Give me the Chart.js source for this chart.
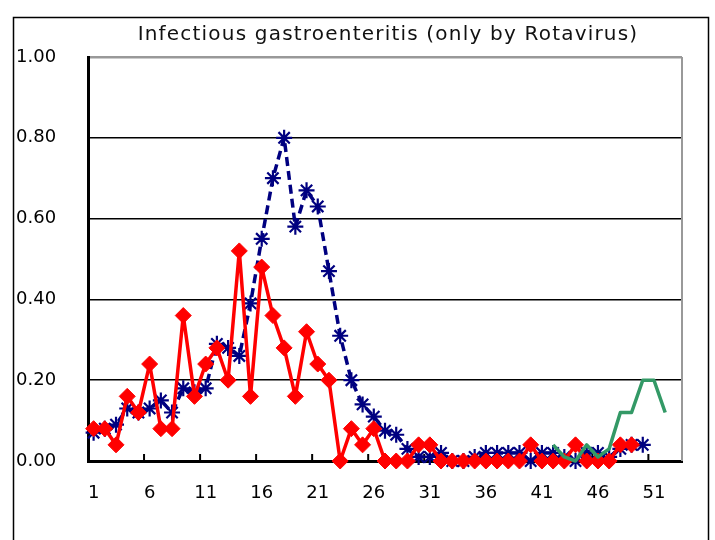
<!DOCTYPE html>
<html>
<head>
<meta charset="utf-8">
<script src="https://cdn.jsdelivr.net/npm/chart.js@4.4.1/dist/chart.umd.min.js"></script>
<style>
  html, body { margin: 0; padding: 0; background: #fff; }
  #wrap { width: 715px; height: 540px; }
</style>
</head>
<body>
<div id="wrap"><canvas id="rotaChart"></canvas></div>
<script>
// week numbers 1..53
const weeks = ["1","2","3","4","5","6","7","8","9","10","11","12","13","14","15","16","17","18","19","20",
    "21","22","23","24","25","26","27","28","29","30","31","32","33","34","35","36","37","38","39","40",
    "41","42","43","44","45","46","47","48","49","50","51","52","53"];

// previous season (blue dashed, asterisks)
const seriesBlue = [0.07, 0.08, 0.09, 0.13, 0.12, 0.13, 0.15, 0.12, 0.18, 0.17,
    0.18, 0.29, 0.28, 0.26, 0.39, 0.55, 0.70, 0.80, 0.58, 0.67,
    0.63, 0.47, 0.31, 0.20, 0.14, 0.11, 0.075, 0.065, 0.03, 0.01,
    0.01, 0.02, 0.00, 0.00, 0.01, 0.02, 0.02, 0.02, 0.02, 0.00,
    0.02, 0.02, 0.01, 0.00, 0.02, 0.02, 0.01, 0.03, 0.04, 0.04,
    null, null, null];

// last season (red, diamonds)
const seriesRed = [0.08, 0.08, 0.04, 0.16, 0.12, 0.24, 0.08, 0.08, 0.36, 0.16,
    0.24, 0.28, 0.20, 0.52, 0.16, 0.48, 0.36, 0.28, 0.16, 0.32,
    0.24, 0.20, 0.00, 0.08, 0.04, 0.08, 0.00, 0.00, 0.00, 0.04,
    0.04, 0.00, 0.00, 0.00, 0.00, 0.00, 0.00, 0.00, 0.00, 0.04,
    0.00, 0.00, 0.00, 0.04, 0.00, 0.00, 0.00, 0.04, 0.04, null,
    null, null, null];

// current season (green)
const seriesGreen = [null, null, null, null, null, null, null, null, null, null,
    null, null, null, null, null, null, null, null, null, null,
    null, null, null, null, null, null, null, null, null, null,
    null, null, null, null, null, null, null, null, null, null,
    null, 0.04, 0.01, 0.00, 0.04, 0.01, 0.03, 0.12, 0.12, 0.20,
    0.20, 0.12, null];

const yTicks = [0, 0.2, 0.4, 0.6, 0.8, 1.0];
const titleText = "Infectious gastroenteritis (only by Rotavirus)";

// frame, right edge, inward x ticks and title
const decorations = {
    id: "decorations",
    beforeDraw(chart) {
        const ctx = chart.ctx;
        ctx.save();
        ctx.strokeStyle = "#000";
        ctx.lineWidth = 1.5;
        ctx.strokeRect(13.5, 17.5, 695, 540);
        ctx.restore();
    },
    beforeDatasetsDraw(chart) {
        const ctx = chart.ctx;
        const area = chart.chartArea;
        const x = chart.scales.x;
        ctx.save();
        ctx.strokeStyle = "#999";
        ctx.lineWidth = 2;
        ctx.beginPath();
        ctx.moveTo(area.right, area.top);
        ctx.lineTo(area.right, area.bottom);
        ctx.stroke();
        ctx.strokeStyle = "#000";
        ctx.lineWidth = 2;
        for (let i = 5; i < weeks.length; i += 5) {
            const px = (x.getPixelForValue(i - 1) + x.getPixelForValue(i)) / 2;
            ctx.beginPath();
            ctx.moveTo(px, area.bottom);
            ctx.lineTo(px, area.bottom - 7);
            ctx.stroke();
        }
        ctx.restore();
    },
    afterDraw(chart) {
        const ctx = chart.ctx;
        const area = chart.chartArea;
        ctx.save();
        ctx.fillStyle = "#111";
        ctx.font = "20px 'DejaVu Sans'";
        ctx.letterSpacing = "1.2px";
        ctx.textAlign = "center";
        ctx.textBaseline = "middle";
        ctx.fillText(titleText, (area.left + area.right) / 2 + 3, 35);
        ctx.restore();
    }
};

const ctx = document.getElementById("rotaChart").getContext("2d");
const rotaChart = new Chart(ctx, {
    type: "line",
    data: {
        labels: weeks,
        datasets: [
            {
                label: "green",
                data: seriesGreen,
                borderColor: "#339966",
                borderWidth: 3.5,
                borderJoinStyle: "round",
                pointRadius: 0,
                tension: 0,
                order: 0,
                clip: false,
            },
            {
                label: "red",
                data: seriesRed,
                borderColor: "#ff0000",
                backgroundColor: "#ff0000",
                borderWidth: 3.5,
                borderJoinStyle: "round",
                pointStyle: "rectRot",
                pointRadius: 8,
                pointBorderWidth: 1,
                tension: 0,
                order: 1,
                clip: false,
            },
            {
                label: "blue",
                data: seriesBlue,
                borderColor: "#000080",
                backgroundColor: "#000080",
                borderWidth: 3.5,
                borderDash: [9, 5],
                borderJoinStyle: "round",
                pointStyle: "star",
                pointRadius: 8,
                pointBorderWidth: 2.2,
                tension: 0,
                order: 2,
                clip: false,
            },
        ],
    },
    options: {
        responsive: true,
        maintainAspectRatio: false,
        animation: false,
        layout: {
            padding: { left: 16, top: 57, right: 33, bottom: 0 },
        },
        plugins: {
            legend: { display: false },
            title: { display: false },
            tooltip: { enabled: false },
        },
        scales: {
            x: {
                type: "category",
                offset: true,
                grid: { display: false, drawTicks: false, offset: true },
                border: { display: true, color: "#000", width: 3 },
                afterFit(scale) { scale.height = 79; },
                ticks: {
                    autoSkip: false,
                    maxRotation: 0,
                    padding: 22,
                    color: "#000",
                    font: { family: "'DejaVu Sans'", size: 18 },
                    callback(value, index) {
                        return index % 5 === 0 ? weeks[index] : null;
                    },
                },
            },
            y: {
                min: 0,
                max: 1,
                afterFit(scale) { scale.width = 72; },
                afterBuildTicks(scale) {
                    scale.ticks = yTicks.map(v => ({ value: v }));
                },
                grid: {
                    drawTicks: false,
                    color: c => (c.tick && c.tick.value === 1 ? "#999" : "#000"),
                    lineWidth: c => (c.tick && c.tick.value === 1 ? 2.5 : 1.5),
                },
                border: { display: true, color: "#000", width: 3 },
                ticks: {
                    padding: 0,
                    crossAlign: "far",
                    color: "#000",
                    font: { family: "'DejaVu Sans'", size: 18 },
                    callback: v => v.toFixed(2),
                },
            },
        },
    },
    plugins: [decorations],
});
</script>
</body>
</html>
